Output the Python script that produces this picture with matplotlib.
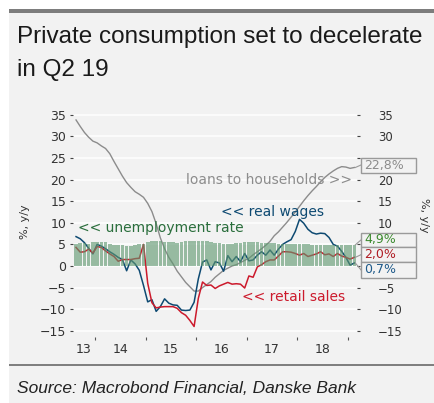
import matplotlib.pyplot as plt
from matplotlib.patches import Rectangle
from matplotlib.lines import Line2D
import numpy as np

W, H = 434, 403

# monthly data, Aug 2013 - Feb 2019 (% y/y)
first_month = 7   # months after Jan 2013
loans = [33.8, 32.3, 30.9, 29.8, 28.9, 28.5, 27.8, 27.2, 26.0, 24.2,
         22.5, 20.8, 19.3, 18.2, 17.2, 16.6, 15.9, 14.5, 12.6, 9.8,
         6.5, 4.0, 2.0, 0.5, -1.2, -2.5, -3.8, -4.8, -5.8, -5.8,
         -5.0, -4.3, -3.6, -2.6, -1.8, -1.0, -0.5, 0.0, 0.3, 0.8,
         1.3, 1.8, 2.6, 3.3, 4.0, 4.8, 5.7, 7.0, 7.9, 9.0,
         10.1, 11.3, 12.5, 13.8, 15.1, 16.3, 17.4, 18.4, 19.5, 20.5,
         21.3, 22.0, 22.6, 23.0, 22.9, 22.6, 22.8]
real_wages = [6.8, 6.3, 5.4, 4.1, 2.8, 5.0, 4.6, 4.0, 3.3, 2.7,
              2.0, 1.5, -1.1, 1.4, 0.5, -1.0, -4.5, -8.3, -7.8, -10.5,
              -9.4, -7.6, -8.6, -9.0, -9.1, -10.2, -10.3, -10.2, -8.4, -3.0,
              0.9, 1.4, -0.9, 1.0, 0.7, -1.2, 2.4, 1.0, 2.2, 1.0,
              2.9, 1.2, 1.4, 2.5, 3.3, 2.5, 3.7, 2.5, 3.9, 5.0,
              5.6, 6.1, 8.0, 10.8, 9.9, 8.5, 7.7, 7.4, 7.6, 7.5,
              6.6, 5.0, 4.6, 3.4, 2.0, 0.2, 0.7]
retail_sales = [4.3, 3.2, 3.3, 3.9, 3.0, 4.5, 4.3, 3.5, 2.8, 2.2,
                1.1, 1.5, 1.5, 1.5, 1.7, 1.8, 5.0, -4.0, -8.5, -9.7,
                -9.5, -9.4, -9.4, -9.4, -9.8, -10.8, -11.4, -12.6, -14.0, -7.5,
                -3.7, -4.5, -4.4, -5.2, -4.6, -4.2, -3.8, -4.2, -4.1, -4.2,
                -5.1, -2.3, -2.6, -0.2, 0.3, 1.0, 1.4, 1.4, 2.3, 3.3,
                3.3, 3.2, 2.9, 2.5, 2.9, 2.2, 2.5, 2.8, 3.3, 2.6,
                2.8, 2.2, 2.9, 2.3, 2.0, 1.6, 2.0]
unemployment = [5.2, 5.3, 5.3, 5.2, 5.5, 5.6, 5.6, 5.5, 5.0, 4.9,
                4.9, 4.8, 4.7, 4.7, 4.8, 5.0, 5.2, 5.6, 5.8, 5.8,
                5.7, 5.6, 5.5, 5.5, 5.4, 5.5, 5.7, 5.9, 5.9, 5.9,
                5.8, 5.8, 5.6, 5.4, 5.3, 5.2, 5.2, 5.2, 5.3, 5.4,
                5.6, 5.6, 5.6, 5.5, 5.4, 5.3, 5.3, 5.3, 5.2, 5.2,
                5.2, 5.1, 5.1, 5.0, 5.0, 5.0, 4.9, 4.9, 4.9, 4.9,
                4.9, 4.9, 4.9, 4.9, 4.9, 4.9, 4.9]
year_labels = ['13', '14', '15', '16', '17', '18']
end_labels = ['22,8%', '4,9%', '2,0%', '0,7%']

t = 2013 + (first_month + np.arange(len(loans)) + 0.5) / 12

BG = '#f2f2f2'
GREY = '#8c8c8c'
BLUE = '#0e4a72'
RED = '#cc1a2c'
GREEN_BAR = '#5f9870'
GREEN_TXT = '#2a6e3c'


def fx(px):
    return px / W


def fy(py):
    return 1 - py / H


def fmt(v):
    return ('\u2212' + str(-v)) if v < 0 else str(v)


fig = plt.figure(figsize=(W / 100, H / 100), dpi=100, facecolor='white')
fig.patches.append(Rectangle((fx(9), 0), 1 - fx(9), fy(9), transform=fig.transFigure,
                             facecolor=BG, edgecolor='none', zorder=-10))
fig.patches.append(Rectangle((fx(9), fy(12.5)), 1 - fx(9), 3.5 / H, transform=fig.transFigure,
                             facecolor='#7d7d7d', edgecolor='none', zorder=-9))
fig.patches.append(Rectangle((fx(9), fy(366)), 1 - fx(9), 2 / H, transform=fig.transFigure,
                             facecolor='#808080', edgecolor='none', zorder=-9))

fig.text(fx(17), fy(43), 'Private consumption set to decelerate', fontsize=17.5,
         family='Liberation Sans', color='#1a1a1a', va='baseline')
fig.text(fx(17), fy(76), 'in Q2 19', fontsize=17.5,
         family='Liberation Sans', color='#1a1a1a', va='baseline')
fig.text(fx(17), fy(393), 'Source: Macrobond Financial, Danske Bank', fontsize=12.5,
         family='Liberation Sans', style='italic', color='#222222', va='baseline')

ax = fig.add_axes([fx(73), fy(337.3), (357 - 73) / W, (337.3 - 108.3) / H])
ax.set_facecolor('none')
ax.set_xlim(2013.565, 2019.178)
ax.set_ylim(-16.5, 36.5)
for s in ax.spines.values():
    s.set_visible(False)

yt = np.arange(-15, 36, 5)
ax.set_yticks(yt)
ax.set_yticklabels([fmt(v) for v in yt])
for v in yt:
    ax.axhline(v, color='white', lw=1.1, zorder=0)

ax.plot(t, loans, color=GREY, lw=1.0, zorder=2)
ax.plot(t, real_wages, color=BLUE, lw=1.1, zorder=2)
ax.plot(t, retail_sales, color=RED, lw=1.1, zorder=2)
ax.bar(t, unemployment, width=0.85 / 12, color=GREEN_BAR, alpha=0.62, zorder=3, lw=0)

ax.set_xticks([2013.77, 2014.5, 2015.5, 2016.5, 2017.5, 2018.5])
ax.set_xticklabels(year_labels)
ax.set_xticks(np.arange(2014, 2020), minor=True)
ax.tick_params(axis='x', which='major', length=0, pad=4, labelsize=9, labelcolor='#333333')
ax.tick_params(axis='x', which='minor', length=2, width=0.8, color='#555555')
ax.tick_params(axis='y', length=2, width=0.8, color='#444444', pad=3,
               labelsize=9, labelcolor='#333333')

# right axis: the 0, 5 and 25 labels sit under the value boxes
ax2 = ax.twinx()
ax2.set_ylim(ax.get_ylim())
ax2.set_yticks(yt)
ax2.set_yticklabels(['' if v in (0, 5, 25) else fmt(v) for v in yt])
for s in ax2.spines.values():
    s.set_visible(False)
ax2.tick_params(axis='y', length=2, width=0.8, color='#444444', pad=13,
                labelsize=8.5, labelcolor='#333333')

fig.text(fx(25), fy(222), '%, y/y', rotation=90, fontsize=8, color='#333333',
         ha='center', va='center')
fig.text(fx(424), fy(215), '%, y/y', rotation=270, fontsize=8, color='#333333',
         ha='center', va='center')

ax.text(2013.664, 8.9, '<< unemployment rate', color=GREEN_TXT, fontsize=10,
        va='center', ha='left', zorder=5)
ax.text(2016.49, 12.6, '<< real wages', color=BLUE, fontsize=10,
        va='center', ha='left', zorder=5)
ax.text(2019.07, 19.9, 'loans to households >>', color=GREY, fontsize=10,
        va='center', ha='right', zorder=5)
ax.text(2016.9, -7.2, '<< retail sales', color=RED, fontsize=10,
        va='center', ha='left', zorder=5)

# value boxes at the right, with leader lines to the last observation
box_tops = [157.5, 232.7, 247.2, 262.2]
box_h = [15, 14.5, 15, 15.5]
box_cols = [GREY, '#3b8a2e', '#b01c24', '#1f5a8a']
ends = [loans[-1], unemployment[-1], retail_sales[-1], real_wages[-1]]
to_fig = fig.transFigure.inverted()
for lab, top, hh, col, end in zip(end_labels, box_tops, box_h, box_cols, ends):
    fig.patches.append(Rectangle((fx(361), fy(top + hh)), 55 / W, hh / H,
                                 transform=fig.transFigure, facecolor=BG,
                                 edgecolor='#9a9a9a', lw=1.0, zorder=4))
    fig.text(fx(364), fy(top + hh / 2), lab, color=col, fontsize=9,
             va='center', ha='left', zorder=5)
    x0, y0 = to_fig.transform(ax.transData.transform((t[-1] + 0.02, end)))
    fig.add_artist(Line2D([x0, fx(361)], [y0, fy(top + hh / 2)],
                          color='#9a9a9a', lw=0.8, transform=fig.transFigure))

fig.savefig('out.png', dpi=100, facecolor=fig.get_facecolor())
